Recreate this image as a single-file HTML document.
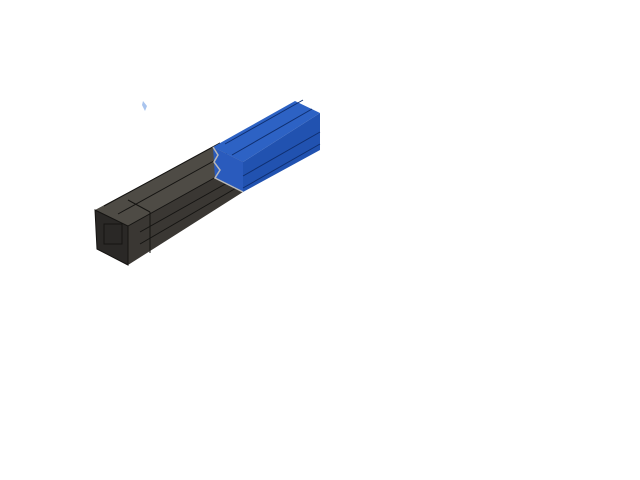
<!DOCTYPE html>
<html><head><style>html,body{margin:0;background:#fff;width:640px;height:480px;overflow:hidden}</style></head>
<body>
<svg width="640" height="480" viewBox="0 0 640 480">
<path d="M143,101 L147,106 L145,111 L142,105Z" fill="#a9c4ee"/>
<polygon points="95,210 213,147 243,162 128,226" fill="#4e4b45"/>
<polygon points="128,226 243,162 243,192 128,265" fill="#3a3733"/>
<polygon points="95,210 128,226 128,265 97,249" fill="#2a2826"/>
<g stroke="#151412" stroke-width="1" fill="none">
<line x1="104" y1="206" x2="220" y2="143"/>
<line x1="118" y1="214" x2="230" y2="152"/>
<line x1="128" y1="226" x2="243" y2="162"/>
<line x1="140" y1="232" x2="243" y2="174"/>
<line x1="140" y1="244" x2="243" y2="184"/>
<line x1="128" y1="200" x2="150" y2="212"/>
<line x1="150" y1="212" x2="150" y2="253"/>
<polygon points="95,210 128,226 128,265 97,249"/>
<rect x="104" y="224" width="18" height="20"/>
</g>
<polygon points="213,147 295,101 320,113 243,162" fill="#2d62c4"/>
<polygon points="243,162 320,113 320,150 243,192" fill="#2152b0"/>
<polygon points="213,147 243,162 243,192 215,178" fill="#2a5bbd"/>
<g stroke="#0f2f70" stroke-width="1" fill="none">
<line x1="225" y1="144" x2="303" y2="100"/>
<line x1="232" y1="155" x2="312" y2="109"/>
<line x1="243" y1="176" x2="320" y2="132"/>
<line x1="243" y1="188" x2="320" y2="144"/>
</g>
<polyline points="213,147 218,155 214,162 220,170 215,178 243,192" stroke="#b8b8b8" stroke-width="1.5" fill="none"/>
</svg>
</body></html>
